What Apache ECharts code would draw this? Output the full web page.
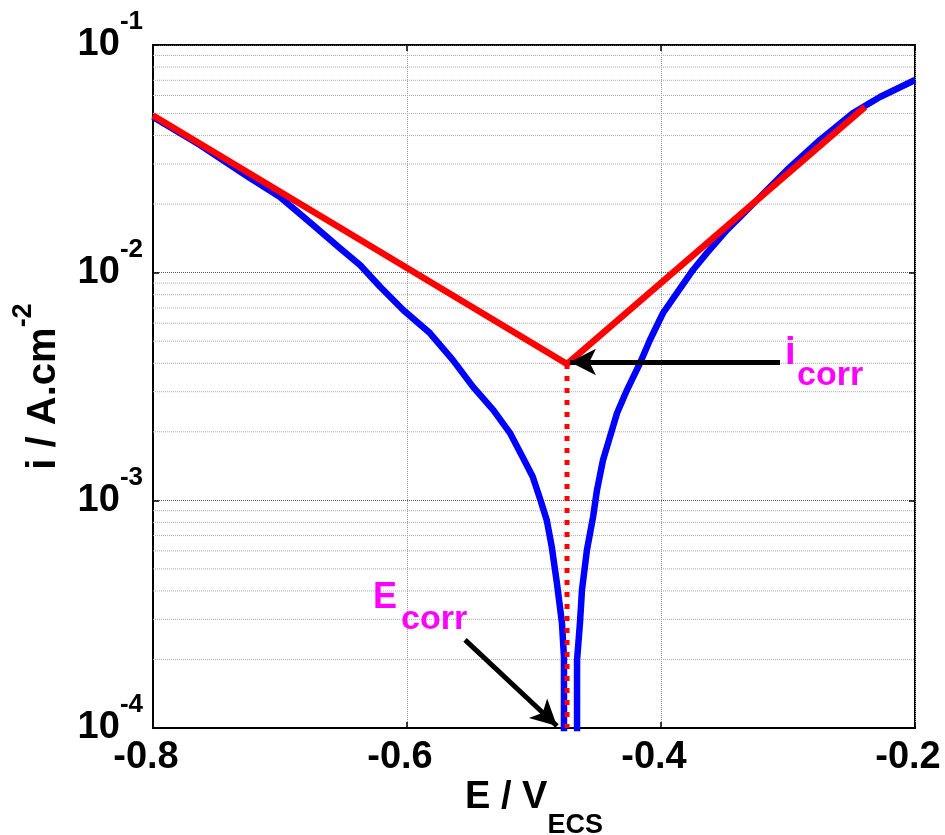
<!DOCTYPE html>
<html>
<head>
<meta charset="utf-8">
<script src="https://cdn.jsdelivr.net/npm/echarts@6/dist/echarts.min.js"></script>
<style>
html, body { margin: 0; padding: 0; background: #fff; }
#chart { width: 945px; height: 835px; }
</style>
</head>
<body>
<div id="chart"></div>
<script>
// measured polarisation curve, cathodic branch
var cathE = [-0.800, -0.763, -0.724, -0.700, -0.674, -0.653, -0.637, -0.621, -0.603, -0.582,
             -0.564, -0.548, -0.532, -0.519, -0.509, -0.501, -0.495, -0.490, -0.486, -0.482,
             -0.478, -0.4764, -0.4764];
var cathI = [0.0483, 0.0364, 0.0261, 0.0215, 0.0162, 0.01283, 0.01081, 0.00865, 0.00686, 0.00543,
             0.00414, 0.00315, 0.00249, 0.00198, 0.00155, 0.00127, 0.001005, 0.00082, 0.000624, 0.000434,
             0.00029, 0.000205, 0.00009];
// anodic branch
var anodE = [-0.4661, -0.4661, -0.4638, -0.4622, -0.4583, -0.4535, -0.4504, -0.4457, -0.4402, -0.4346,
             -0.4268, -0.4165, -0.4087, -0.3984, -0.3874, -0.3748, -0.3638, -0.348, -0.3244, -0.3008,
             -0.2748, -0.2488, -0.2276, -0.200];
var anodI = [0.00009, 0.000199, 0.00029, 0.000405, 0.000606, 0.000845, 0.00111, 0.0015, 0.0019, 0.00242,
             0.00305, 0.00401, 0.00506, 0.00665, 0.00815, 0.01028, 0.01222, 0.0154, 0.02084, 0.02825,
             0.03828, 0.0503, 0.0591, 0.0702];
// Tafel extrapolation
var tafelE = [-0.800, -0.474, -0.2394];
var tafelI = [0.049, 0.00397, 0.0534];
var Ecorr = -0.474;
var icorr = 0.00397;
var minorTicks = [2e-4, 3e-4, 4e-4, 5e-4, 6e-4, 7e-4, 8e-4, 9e-4,
                  2e-3, 3e-3, 4e-3, 5e-3, 6e-3, 7e-3, 8e-3, 9e-3,
                  2e-2, 3e-2, 4e-2, 5e-2, 6e-2, 7e-2, 8e-2, 9e-2];
// annotation arrows [E, i]
var icorrArrow = [[-0.3063, 0.00405], [-0.4717, 0.00405]];
var ecorrArrow = [[-0.5543, 0.000244], [-0.4819, 0.000102]];

var FONT = "'Liberation Sans', Arial, sans-serif";

function pairs(xs, ys) {
    return xs.map(function (x, k) { return [x, ys[k]]; });
}

var blueData = pairs(cathE, cathI).concat(['-'], pairs(anodE, anodI));

// minor grid lines as broken segments across the plot
var minorData = [];
minorTicks.forEach(function (v) {
    minorData.push([-0.8, v], [-0.2, v], '-');
});

var chart = echarts.init(document.getElementById('chart'));

var option = {
    animation: false,
    grid: {
        left: 153, right: 30, top: 45, bottom: 107,
        outerBoundsMode: 'none', containLabel: false,
        show: true, borderColor: '#000', borderWidth: 2
    },
    xAxis: [{
        type: 'value', min: -0.8, max: -0.2, interval: 0.2,
        name: '{b|E / V}{s|ECS}', nameLocation: 'middle', nameGap: 50, nameMoveOverlap: false,
        nameTextStyle: {
            rich: {
                b: { fontFamily: FONT, fontWeight: 'bold', fontSize: 38, lineHeight: 40, color: '#000', verticalAlign: 'middle' },
                s: { fontFamily: FONT, fontWeight: 'bold', fontSize: 27, lineHeight: 27, color: '#000', verticalAlign: 'middle', padding: [56, 0, 0, 0] }
            }
        },
        axisLine: { lineStyle: { color: '#000', width: 2 } },
        axisTick: { inside: true, length: 6, lineStyle: { color: '#000', width: 1.5 } },
        axisLabel: {
            margin: 11, fontFamily: FONT, fontWeight: 'bold', fontSize: 38, color: '#000',
            padding: [0, 14, 0, 0],
            formatter: function (v) { return (Math.round(v * 10) / 10).toFixed(1); }
        },
        splitLine: { show: true, lineStyle: { color: '#999', type: 'dotted', width: 1 } }
    }, {
        type: 'value', position: 'top', min: -0.8, max: -0.2, interval: 0.2,
        axisLine: { show: false }, axisLabel: { show: false }, splitLine: { show: false },
        axisTick: { inside: true, length: 6, lineStyle: { color: '#000', width: 1.5 } }
    }],
    yAxis: [{
        type: 'log', logBase: 10, min: 1e-4, max: 1e-1,
        name: '{b|i / A.cm}{s|-2}', nameLocation: 'middle', nameGap: 88, nameMoveOverlap: false,
        nameTextStyle: {
            rich: {
                b: { fontFamily: FONT, fontWeight: 'bold', fontSize: 40, lineHeight: 42, color: '#000', verticalAlign: 'middle' },
                s: { fontFamily: FONT, fontWeight: 'bold', fontSize: 27, lineHeight: 27, color: '#000', verticalAlign: 'middle', padding: [0, 0, 40, 0] }
            }
        },
        axisLine: { lineStyle: { color: '#000', width: 2 } },
        axisTick: { inside: true, length: 6, lineStyle: { color: '#000', width: 1.5 } },
        axisLabel: {
            margin: 10,
            formatter: function (v) {
                return '{b|10}{s|' + Math.round(Math.log10(v)) + '}';
            },
            rich: {
                b: { fontFamily: FONT, fontWeight: 'bold', fontSize: 38, lineHeight: 40, color: '#000', verticalAlign: 'middle' },
                s: { fontFamily: FONT, fontWeight: 'bold', fontSize: 26, lineHeight: 26, color: '#000', verticalAlign: 'middle', padding: [0, 0, 46, 0] }
            }
        },
        splitLine: { show: true, lineStyle: { color: '#555', type: 'dotted', width: 1 } }
    }, {
        type: 'log', logBase: 10, min: 1e-4, max: 1e-1, position: 'right',
        axisLine: { show: false }, axisLabel: { show: false }, splitLine: { show: false },
        axisTick: { inside: true, length: 6, lineStyle: { color: '#000', width: 1.5 } }
    }],
    series: [{
        name: 'minor grid', type: 'line', data: minorData, silent: true, z: 1,
        showSymbol: false, connectNulls: false,
        lineStyle: { color: '#aaa', type: 'dotted', width: 1 }
    }, {
        name: 'measured', type: 'line', data: blueData, z: 3,
        showSymbol: false, connectNulls: false, clip: true,
        lineStyle: { color: '#0000ff', width: 6.5, join: 'round' }
    }, {
        name: 'tafel', type: 'line', data: pairs(tafelE, tafelI), z: 4,
        showSymbol: false,
        lineStyle: { color: '#ff0000', width: 6.5, join: 'miter', cap: 'butt' }
    }, {
        name: 'ecorr', type: 'line', data: [[Ecorr, icorr], [Ecorr, 1e-4]], z: 5,
        showSymbol: false,
        lineStyle: { color: '#ff0000', width: 5, type: [5, 7], cap: 'butt' },
        markLine: {
            silent: true, z: 6, animation: false,
            symbol: ['none', 'arrow'], symbolSize: [20, 26],
            label: { show: false },
            lineStyle: { color: '#000', width: 5, type: 'solid' },
            data: [
                [{ coord: icorrArrow[0] }, { coord: icorrArrow[1] }],
                [{ coord: ecorrArrow[0] }, { coord: ecorrArrow[1] }]
            ]
        }
    }],
    graphic: [
        { type: 'text', x: 785, y: 354, z: 10, style: { text: 'i', font: 'bold 38px ' + FONT, fill: '#ff00ff', verticalAlign: 'middle' } },
        { type: 'text', x: 797, y: 376, z: 10, style: { text: 'corr', font: 'bold 34px ' + FONT, fill: '#ff00ff', verticalAlign: 'middle' } },
        { type: 'text', x: 373, y: 598, z: 10, style: { text: 'E', font: 'bold 36px ' + FONT, fill: '#ff00ff', verticalAlign: 'middle' } },
        { type: 'text', x: 401, y: 620, z: 10, style: { text: 'corr', font: 'bold 34px ' + FONT, fill: '#ff00ff', verticalAlign: 'middle' } }
    ]
};

chart.setOption(option);
</script>
</body>
</html>
